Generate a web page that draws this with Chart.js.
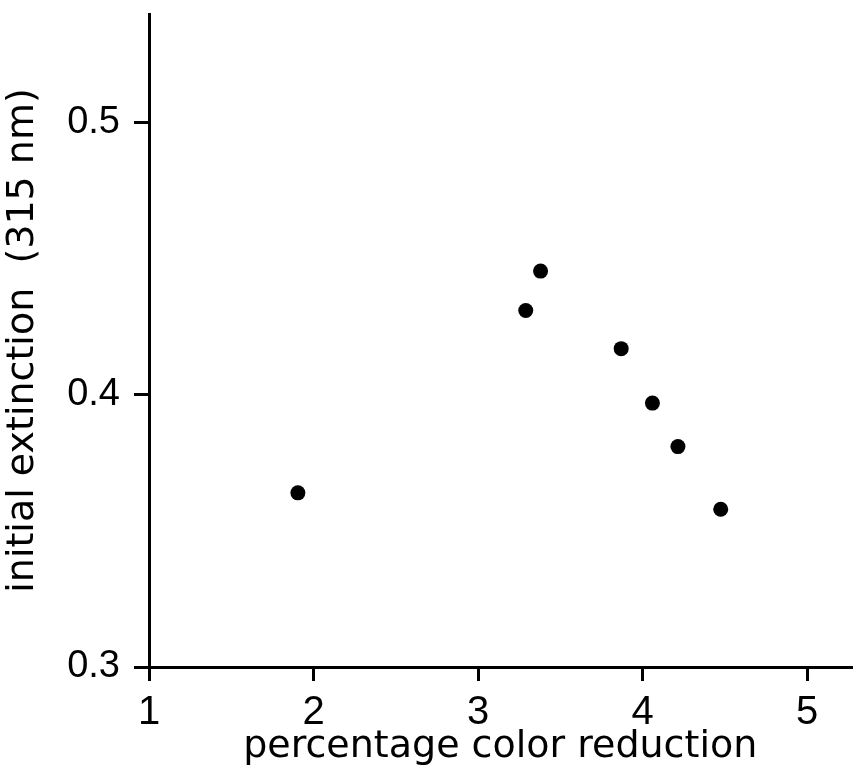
<!DOCTYPE html>
<html>
<head>
<meta charset="utf-8">
<script src="https://cdn.jsdelivr.net/npm/chart.js@4"></script>
<style>
  html, body { margin: 0; padding: 0; background: #fff; }
  #wrap { width: 859px; height: 770px; }
</style>
</head>
<body>
<div id="wrap"><canvas id="scatterChart" width="859" height="770"></canvas></div>
<script>
// values
const colorReduction = [1.905, 3.29, 3.38, 3.87, 4.06, 4.215, 4.475];
const initialExtinction = [0.364, 0.431, 0.4455, 0.417, 0.397, 0.381, 0.358];
const xTicks = [1, 2, 3, 4, 5];
const yTicks = [0.3, 0.4, 0.5];

const points = colorReduction.map((x, i) => ({ x: x, y: initialExtinction[i] }));

const tickFont = 'Liberation Sans';
const titleFont = 'DejaVu Sans';

const ctx = document.getElementById('scatterChart').getContext('2d');
const scatterChart = new Chart(ctx, {
  type: 'scatter',
  data: {
    datasets: [{
      label: 'initial extinction',
      data: points,
      backgroundColor: '#000',
      borderWidth: 0,
      pointRadius: 7.5,
      pointHoverRadius: 7.5
    }]
  },
  options: {
    responsive: false,
    animation: false,
    layout: {
      padding: { top: 14, right: 4, left: 0, bottom: 0 }
    },
    plugins: {
      legend: { display: false },
      tooltip: { enabled: false }
    },
    scales: {
      x: {
        type: 'linear',
        min: 1,
        max: 5.27,
        afterBuildTicks: (scale) => { scale.ticks = xTicks.map(v => ({ value: v })); },
        afterFit: (scale) => {
          scale.height = 103;
          scale.paddingLeft = 0;
          scale.paddingRight = 0;
        },
        border: { display: true, color: '#000', width: 3 },
        grid: {
          drawOnChartArea: false,
          drawTicks: true,
          tickLength: 14,
          color: '#000',
          lineWidth: 3
        },
        ticks: {
          color: '#000',
          padding: 8,
          font: { family: tickFont, size: 40 }
        },
        title: {
          display: true,
          text: 'percentage color reduction',
          color: '#000',
          padding: { top: 0, bottom: 0 },
          font: { family: titleFont, size: 38 }
        }
      },
      y: {
        type: 'linear',
        min: 0.3,
        max: 0.54,
        afterBuildTicks: (scale) => { scale.ticks = yTicks.map(v => ({ value: v })); },
        afterFit: (scale) => {
          scale.width = 149;
          scale.paddingTop = 0;
          scale.paddingBottom = 0;
        },
        border: { display: true, color: '#000', width: 3 },
        grid: {
          drawOnChartArea: false,
          drawTicks: true,
          tickLength: 15,
          color: '#000',
          lineWidth: 3
        },
        ticks: {
          color: '#000',
          padding: 14,
          font: { family: tickFont, size: 38 },
          callback: (v) => v.toFixed(1)
        },
        title: {
          display: true,
          text: 'initial extinction  (315 nm)',
          color: '#000',
          padding: { top: 0, bottom: 4 },
          font: { family: titleFont, size: 38 }
        }
      }
    }
  }
});
</script>
</body>
</html>
